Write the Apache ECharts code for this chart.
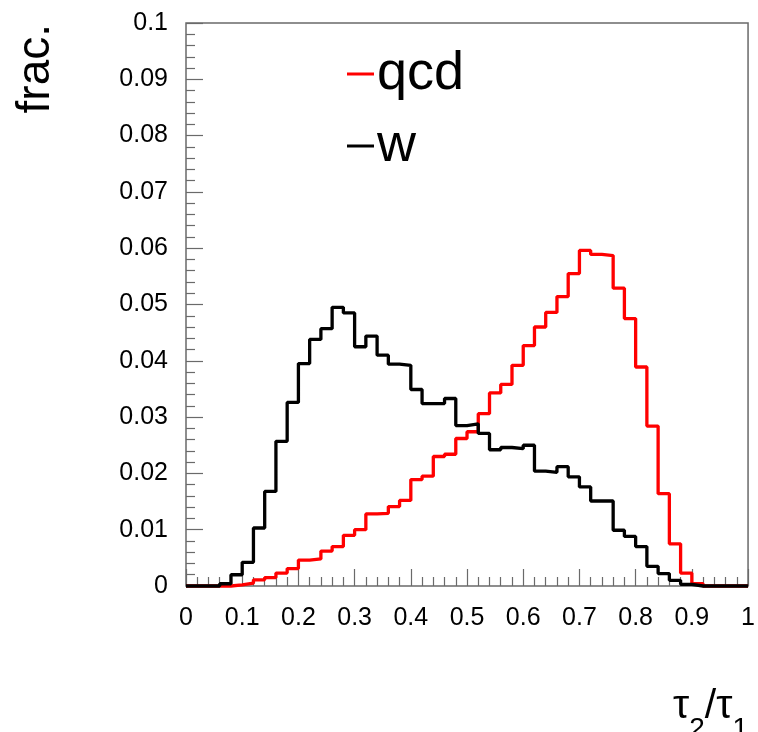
<!DOCTYPE html>
<html>
<head>
<meta charset="utf-8">
<script src="https://cdn.jsdelivr.net/npm/echarts@6/dist/echarts.min.js"></script>
<style>html,body{margin:0;padding:0;background:#fff}#c{width:758px;height:732px}</style>
</head>
<body>
<div id="c"></div>
<script>
// 50 bins from 0 to 1 (width 0.02); values per bin
const binEdges = [0,0.02,0.04,0.06,0.08,0.1,0.12,0.14,0.16,0.18,0.2,0.22,0.24,0.26,0.28,0.3,0.32,0.34,0.36,0.38,0.4,0.42,0.44,0.46,0.48,0.5,0.52,0.54,0.56,0.58,0.6,0.62,0.64,0.66,0.68,0.7,0.72,0.74,0.76,0.78,0.8,0.82,0.84,0.86,0.88,0.9,0.92,0.94,0.96,0.98,1.0];
const qcdValues = [0,0,0,0,0.0002,0.0005,0.0011,0.0015,0.0023,0.0031,
  0.0046,0.0048,0.0062,0.0070,0.0090,0.0100,0.0128,0.0129,0.0141,0.0152,
  0.0189,0.0195,0.0230,0.0234,0.0262,0.0274,0.0306,0.0343,0.0358,0.0392,
  0.0427,0.0460,0.0486,0.0514,0.0555,0.0596,0.0589,0.0587,0.0529,0.0475,
  0.0389,0.0284,0.0164,0.0075,0.0023,0.0004,0,0,0,0];
const wValues = [0,0,0,0.0004,0.0020,0.0042,0.0103,0.0168,0.0257,0.0326,
  0.0395,0.0438,0.0457,0.0495,0.0485,0.0425,0.0444,0.0410,0.0394,0.0392,
  0.0349,0.0324,0.0324,0.0333,0.0285,0.0288,0.0271,0.0242,0.0246,0.0244,
  0.0250,0.0204,0.0202,0.0212,0.0194,0.0176,0.0151,0.0151,0.0099,0.0088,
  0.0070,0.0035,0.0022,0.0010,0.0003,0,0,0,0,0];
const seriesNames = ['qcd','w'];
const xTicks = [0,0.1,0.2,0.3,0.4,0.5,0.6,0.7,0.8,0.9,1];
const yTicks = [0,0.01,0.02,0.03,0.04,0.05,0.06,0.07,0.08,0.09,0.1];

function stepData(vals){
  const d = vals.map((v,i)=>[binEdges[i], v]);
  d.push([binEdges[binEdges.length-1], vals[vals.length-1]]);
  return d;
}
const FONT = 'Liberation Sans, Arial, Helvetica, sans-serif';
const frameColor = '#6a6a6a';
const chart = echarts.init(document.getElementById('c'), null, {renderer:'canvas'});
chart.setOption({
  animation:false,
  backgroundColor:'#fff',
  grid:{left:186, top:23, width:563, height:563, show:true, borderColor:frameColor, borderWidth:1.5, backgroundColor:'transparent'},
  xAxis:{type:'value', min:xTicks[0], max:xTicks[xTicks.length-1], interval:0.1,
    axisLine:{show:false},
    axisTick:{show:true, inside:true, length:17, lineStyle:{color:frameColor, width:1.2}},
    minorTick:{show:true, splitNumber:5, length:9, lineStyle:{color:frameColor, width:1.2}},
    splitLine:{show:false},
    axisLabel:{margin:20, fontSize:25, color:'#000', fontFamily:FONT,
      formatter:v=>String(+v.toFixed(2))}
  },
  yAxis:{type:'value', min:yTicks[0], max:yTicks[yTicks.length-1], interval:0.01,
    axisLine:{show:false},
    axisTick:{show:true, inside:true, length:17, lineStyle:{color:frameColor, width:1.2}},
    minorTick:{show:true, splitNumber:5, length:9, lineStyle:{color:frameColor, width:1.2}},
    splitLine:{show:false},
    axisLabel:{margin:18, fontSize:25, color:'#000', fontFamily:FONT,
      formatter:v=>String(+v.toFixed(3))}
  },
  legend:{orient:'vertical', left:347, top:47, itemWidth:27, itemHeight:3, itemGap:18,
    icon:'rect', padding:0,
    textStyle:{fontSize:54, color:'#000', fontFamily:FONT, padding:[0,0,0,-2]},
    data:seriesNames},
  graphic:[
    {type:'text', x:36, y:24, rotation:Math.PI/2,
      style:{text:'frac.', fontSize:46, fontFamily:FONT, fill:'#000', align:'right', verticalAlign:'middle'}},
    {type:'text', x:748, y:707,
      style:{text:'{t|τ}{s|2}{t|/τ}{s|1}', align:'right', verticalAlign:'middle', fontFamily:FONT,
        rich:{t:{fontSize:41, fontFamily:FONT, fill:'#000'}, s:{fontSize:28, fontFamily:FONT, fill:'#000', padding:[44,0,0,0]}}}}
  ],
  series:[
    {name:seriesNames[0], type:'line', step:'end', symbol:'none', clip:false,
      color:'#ff0000', lineStyle:{color:'#ff0000', width:3.3}, data:stepData(qcdValues), z:2},
    {name:seriesNames[1], type:'line', step:'end', symbol:'none', clip:false,
      color:'#000000', lineStyle:{color:'#000000', width:3.3}, data:stepData(wValues), z:3}
  ]
});
</script>
</body>
</html>
